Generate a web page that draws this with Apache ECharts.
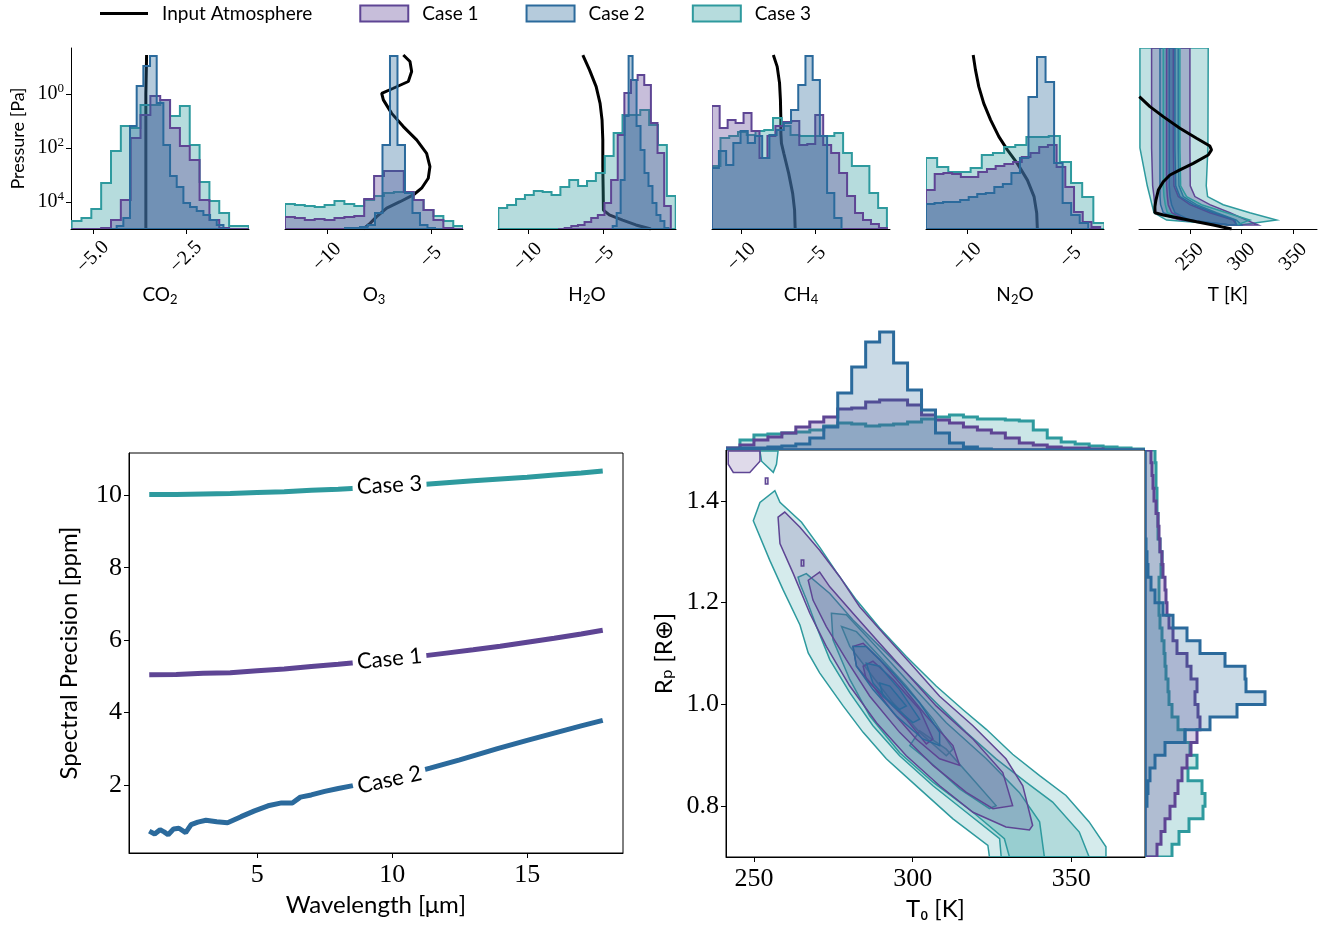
<!DOCTYPE html>
<html>
<head>
<meta charset="utf-8">
<script src="https://cdn.jsdelivr.net/npm/echarts@6/dist/echarts.min.js"></script>
<style>
html, body { margin: 0; padding: 0; background: #fff; }
#main { width: 1335px; height: 928px; }
</style>
</head>
<body>
<div id="main"></div>
<script>
// ---- abundance histograms (bin start, bin width) per case 1, 2, 3 ----
var co2Bins = [[-5.573, 0.2643], [-4.543, 0.1792], [-5.573, 0.2643]];
var co2Case1 = [0, 0, 0, 1, 9, 29, 91, 114, 133, 129, 101, 83, 69, 29, 9, 1, 0, 0];
var co2Case2 = [0, 3, 11, 103, 143, 163, 173, 126, 84, 53, 42, 26, 22, 18, 14, 9, 4, 0];
var co2Case3 = [8, 11, 20, 46, 78, 103, 101, 124, 124, 129, 113, 123, 84, 47, 28, 16, 3, 3];
var co2Profile = [[-3.56, -1.44], [-3.58, 0], [-3.58, 5]];

var o3Bins = [[-12.02, 0.476], [-9.135, 0.3606], [-12.02, 0.476]];
var o3Case1 = [12, 11, 9, 10, 9, 11, 12, 13, 30, 53, 58, 58, 37, 29, 19, 9, 1, 0];
var o3Case2 = [1, 1, 2, 4, 16, 84, 173, 84, 36, 16, 4, 1, 0];
var o3Case3 = [25, 24, 23, 22, 24, 28, 25, 23, 29, 33, 36, 37, 37, 29, 19, 13, 8, 3];
var o3Profile = [[-6.33, -1.44], [-6.01, -1.2], [-5.93, -0.83], [-6.09, -0.46], [-6.81, -0.21], [-7.37, -0.02],
  [-7.29, 0.22], [-6.89, 0.72], [-6.33, 1.21], [-5.69, 1.7], [-5.21, 2.2], [-5.05, 2.69], [-5.13, 3.12],
  [-5.45, 3.49], [-5.85, 3.74], [-6.49, 3.99], [-7.13, 4.23], [-7.61, 4.54], [-7.93, 4.79], [-8.25, 5.0]];

var h2oBins = [[-8.0, 0.4386], [-4.386, 0.263], [-11.95, 0.5866]];
var h2oCase1 = [0, 1, 3, 4, 7, 11, 14, 26, 49, 94, 136, 149, 154, 144, 106, 76, 23];
var h2oCase2 = [3, 16, 49, 113, 173, 149, 103, 79, 56, 43, 26, 14, 8, 1];
var h2oCase3 = [21, 24, 30, 34, 38, 37, 34, 42, 49, 43, 48, 56, 73, 96, 114, 114, 119, 104, 84, 33];
var h2oProfile = [[-6.36, -1.44], [-5.92, -0.89], [-5.48, -0.27], [-5.22, 0.35], [-5.09, 0.96], [-5.04, 1.7],
  [-5.04, 2.69], [-5.02, 3.43], [-5.0, 4.3], [-4.61, 4.48], [-3.73, 4.67], [-2.85, 4.85], [-1.86, 5.0]];

var ch4Bins = [[-12.02, 0.54], [-12.02, 0.489], [-12.02, 0.594]];
var ch4Case1 = [123, 101, 109, 106, 116, 98, 71, 93, 103, 107, 108, 84, 85, 114, 84, 76, 56, 33, 16, 9, 5, 1];
var ch4Case2 = [61, 78, 64, 86, 98, 86, 93, 71, 94, 99, 106, 119, 144, 173, 149, 93, 36, 11];
var ch4Case3 = [63, 91, 93, 97, 94, 98, 99, 111, 103, 94, 93, 93, 93, 93, 96, 76, 63, 63, 36, 21];
var ch4Profile = [[-7.84, -1.44], [-7.58, -1.01], [-7.42, -0.4], [-7.36, 0.22], [-7.33, 0.96], [-7.33, 1.46],
  [-7.29, 1.83], [-7.13, 2.2], [-6.8, 2.94], [-6.53, 3.68], [-6.4, 4.3], [-6.36, 5.0]];

var n2oBins = [[-12.0, 0.4207], [-12.0, 0.4126], [-12.0, 0.539]];
var n2oCase1 = [39, 55, 56, 55, 52, 52, 57, 60, 63, 65, 67, 72, 76, 82, 84, 62, 42, 17, 7, 2];
var n2oCase2 = [25, 26, 27, 27, 29, 32, 35, 36, 42, 45, 56, 71, 132, 172, 147, 66, 26, 14, 6];
var n2oCase3 = [71, 62, 57, 57, 61, 74, 76, 82, 84, 92, 92, 93, 67, 46, 32, 6];
var n2oProfile = [[-9.72, -1.44], [-9.61, -0.89], [-9.45, -0.27], [-9.21, 0.35], [-8.88, 0.96], [-8.48, 1.58],
  [-8.07, 2.07], [-7.59, 2.57], [-7.1, 3.19], [-6.78, 3.8], [-6.65, 4.42], [-6.62, 5.0]];

// ---- temperature profile: input and retrieved bands (log10 P levels) ----
var tProfile = [[201.0, 0.1], [211.3, 0.47], [224.2, 0.84], [240.3, 1.27], [256.4, 1.64], [269.3, 1.93],
  [270.9, 2.07], [267.7, 2.26], [253.2, 2.57], [240.3, 2.81], [230.7, 3.0], [224.2, 3.25], [219.4, 3.56],
  [217.1, 3.93], [216.1, 4.17], [216.1, 4.4], [224.2, 4.48], [240.3, 4.6], [256.4, 4.73], [272.6, 4.85], [290.3, 5.0]];
var tLevels = [-1.7, 2.0, 3.4, 3.8, 4.1, 4.4, 4.67, 4.85];
var tCase3OuterLo = [201.6, 201.6, 208.7, 211.3, 213.2, 215.2, 227.4, 288.7];
var tCase3OuterHi = [267.7, 267.4, 265.8, 267.1, 282.2, 308.0, 333.8, 298.4];
var tCase1OuterLo = [212.9, 212.9, 213.9, 215.2, 215.8, 217.1, 240.3, 288.7];
var tCase1OuterHi = [250.0, 250.0, 250.3, 254.8, 269.3, 288.7, 304.8, 316.1];
var tCase2OuterLo = [221.0, 221.0, 221.0, 221.0, 221.6, 224.2, 243.6, 288.7];
var tCase2OuterHi = [238.7, 238.7, 239.4, 243.6, 256.4, 275.8, 295.1, 300.0];
var tCase3InnerLo = [224.2, 224.2, 224.2, 224.9, 226.1, 228.1, 248.4, 288.7];
var tCase3InnerHi = [240.3, 240.3, 241.0, 246.8, 261.3, 285.5, 308.0, 295.1];
var tCase1InnerLo = [227.4, 227.4, 227.4, 228.1, 229.0, 232.3, 246.8, 288.7];
var tCase1InnerHi = [233.9, 233.9, 234.5, 238.7, 250.0, 269.3, 291.9, 295.1];
var tCase2InnerLo = [230.0, 230.0, 230.0, 230.7, 232.3, 235.5, 250.0, 288.7];
var tCase2InnerHi = [235.5, 235.5, 236.2, 240.3, 253.2, 272.6, 293.5, 295.1];

// ---- spectral precision vs wavelength ----
var wlCase1 = [1, 2, 3, 4, 5, 6, 7, 8, 9, 10, 11, 12, 13, 14, 15, 16, 17, 17.8];
var precCase1 = [5.04, 5.05, 5.08, 5.10, 5.15, 5.20, 5.27, 5.33, 5.40, 5.47, 5.55, 5.64, 5.73, 5.83, 5.94, 6.05, 6.17, 6.27];
var wlCase2 = [1.0, 1.2, 1.4, 1.55, 1.7, 1.9, 2.1, 2.35, 2.55, 2.8, 3.1, 3.5, 3.9, 4.4, 4.9, 5.4, 5.9, 6.3, 6.6,
  7.0, 7.5, 8.0, 8.5, 9.5, 10.5, 11.4, 12.5, 13.9, 15, 16, 17, 17.8];
var precCase2 = [0.72, 0.64, 0.76, 0.70, 0.62, 0.78, 0.80, 0.68, 0.90, 0.97, 1.02, 0.98, 0.95, 1.12, 1.28, 1.42,
  1.50, 1.50, 1.66, 1.72, 1.82, 1.90, 1.97, 2.10, 2.28, 2.46, 2.69, 3.00, 3.23, 3.43, 3.63, 3.78];
var wlCase3 = [1, 2, 3, 4, 5, 6, 7, 8, 9, 10, 11, 12, 13, 14, 15, 16, 17, 17.8];
var precCase3 = [10.02, 10.02, 10.04, 10.05, 10.08, 10.10, 10.14, 10.17, 10.21, 10.25, 10.29, 10.35, 10.40, 10.45, 10.50, 10.56, 10.62, 10.67];

// ---- T0 / Rp posterior: marginals and contour outlines ----
var t0Bins = [241.2, 4.4];
var t0Case1 = [2, 5, 10, 13, 17, 23, 28, 33, 41, 42, 48, 50, 50, 45, 35, 30, 27, 23, 20, 17, 12, 7, 5, 3, 2, 2, 1, 0, 0, 0];
var t0Case2 = [1, 2, 2, 3, 4, 6, 12, 23, 57, 83, 108, 118, 87, 60, 40, 17, 7, 3, 1, 0, 0, 0, 0, 0, 0, 0, 0, 0, 0, 0];
var t0Case3 = [2, 10, 15, 16, 17, 18, 20, 24, 27, 26, 24, 25, 26, 28, 31, 33, 35, 33, 31, 31, 30, 29, 20, 12, 8, 6, 4, 3, 2, 1];
var rpBins = [0.7, 0.025];
var rpCase1 = [12, 16, 20, 25, 30, 33, 37, 42, 46, 52, 55, 53, 50, 52, 46, 42, 32, 28, 24, 22, 21, 20, 18, 17, 15, 14, 13, 11, 9, 8, 7, 6];
var rpCase2 = [0, 0, 0, 0, 2, 3, 5, 10, 20, 40, 65, 92, 120, 101, 100, 80, 55, 42, 28, 18, 10, 6, 3, 2, 1, 0, 0, 0, 0, 0, 0, 0];
var rpCase3 = [27, 34, 44, 58, 60, 57, 43, 52, 45, 40, 33, 27, 24, 23, 21, 20, 19, 17, 15, 14, 14, 14, 16, 17, 15, 13, 13, 12, 12, 11, 11, 10];

var case3Contours = [
  [[256.6, 1.420], [258.2, 1.397], [265.0, 1.358], [270.7, 1.309], [276.0, 1.260], [282.3, 1.205], [289.6, 1.150], [298.0, 1.094],
   [307.4, 1.036], [315.8, 0.990], [323.2, 0.951], [331.5, 0.902], [340.0, 0.860], [348.3, 0.821], [355.6, 0.769], [360.9, 0.720],
   [360.9, 0.700], [324.2, 0.700], [323.7, 0.723], [312.7, 0.775], [302.2, 0.834], [291.7, 0.893], [284.4, 0.945], [278.1, 0.997],
   [270.7, 1.062], [267.1, 1.101], [264.5, 1.156], [259.2, 1.225], [255.0, 1.283], [249.8, 1.361], [251.9, 1.397]],
  [[263.9, 1.250], [266.5, 1.257], [273.9, 1.218], [281.2, 1.166], [289.6, 1.114], [298.0, 1.062], [307.4, 1.003], [316.9, 0.945],
   [326.3, 0.893], [335.7, 0.847], [344.1, 0.808], [352.5, 0.749], [355.6, 0.700], [327.9, 0.700], [327.4, 0.736], [316.9, 0.788],
   [306.4, 0.840], [295.9, 0.899], [287.5, 0.958], [280.2, 1.023], [273.9, 1.088], [269.7, 1.153], [266.6, 1.205], [264.5, 1.237]],
  [[274.4, 1.179], [279.1, 1.176], [286.5, 1.127], [298.0, 1.049], [310.6, 0.964], [323.2, 0.893], [333.6, 0.827], [340.0, 0.769],
   [341.5, 0.700], [330.5, 0.700], [328.9, 0.736], [319.0, 0.788], [306.4, 0.847], [295.9, 0.905], [286.5, 0.977], [280.2, 1.049], [274.9, 1.127]],
  [[277.6, 1.153], [282.3, 1.143], [289.6, 1.094], [298.0, 1.036], [306.4, 0.971], [312.7, 0.912], [310.6, 0.899], [302.2, 0.945],
   [293.8, 1.003], [286.5, 1.062], [280.2, 1.114]],
  [[299.1, 0.919], [302.2, 0.948], [310.6, 0.912], [319.0, 0.853], [326.3, 0.801], [324.2, 0.795], [314.8, 0.834], [304.3, 0.893]],
  [[251.9, 1.498], [257.6, 1.498], [257.1, 1.472], [256.1, 1.456], [252.4, 1.478]]
];
var case1Contours = [
  [[257.6, 1.368], [259.7, 1.378], [264.5, 1.348], [270.7, 1.303], [277.0, 1.251], [283.3, 1.192], [291.7, 1.133], [300.1, 1.075],
   [308.5, 1.016], [319.0, 0.958], [329.4, 0.893], [334.7, 0.840], [337.8, 0.762], [336.8, 0.753], [329.4, 0.759], [319.0, 0.788],
   [308.5, 0.840], [298.0, 0.899], [288.6, 0.964], [280.2, 1.036], [272.8, 1.114], [267.6, 1.179], [262.4, 1.257], [258.2, 1.316]],
  [[267.1, 1.244], [270.7, 1.260], [273.9, 1.231], [281.2, 1.179], [289.6, 1.120], [298.0, 1.062], [307.4, 0.997], [319.0, 0.932],
   [328.4, 0.866], [331.5, 0.801], [325.3, 0.795], [316.9, 0.827], [306.4, 0.880], [295.9, 0.945], [286.5, 1.016], [279.1, 1.088],
   [272.8, 1.153], [268.6, 1.205]],
  [[281.2, 1.114], [284.4, 1.120], [289.6, 1.088], [295.9, 1.042], [304.3, 0.977], [312.7, 0.919], [314.8, 0.880], [308.5, 0.893],
   [301.1, 0.932], [293.8, 0.984], [287.5, 1.036], [282.3, 1.075]],
  [[284.4, 1.075], [287.5, 1.085], [293.8, 1.049], [302.2, 0.990], [306.4, 0.932], [304.3, 0.922], [298.0, 0.971], [290.7, 1.016], [285.4, 1.049]],
  [[241.9, 1.498], [251.9, 1.498], [251.9, 1.478], [248.7, 1.456], [243.5, 1.456], [241.9, 1.472]],
  [[253.6, 1.445], [254.4, 1.445], [254.4, 1.433], [253.6, 1.433]],
  [[264.9, 1.284], [265.7, 1.284], [265.7, 1.272], [264.9, 1.272]]
];
var case2Contours = [
  [[281.2, 1.114], [285.4, 1.114], [293.8, 1.062], [302.2, 1.003], [308.5, 0.945], [308.5, 0.919], [303.2, 0.932], [294.9, 0.977],
   [287.5, 1.029], [282.3, 1.075]],
  [[285.4, 1.081], [289.6, 1.075], [295.9, 1.029], [302.2, 0.971], [300.1, 0.964], [293.8, 0.997], [287.5, 1.042]],
  [[289.6, 1.042], [292.8, 1.036], [298.0, 0.997], [295.9, 0.990], [290.7, 1.016]]
];

// ---- style ----
var SANS = 'Lato, "DejaVu Sans", sans-serif';
var SERIF = '"Liberation Serif", "DejaVu Serif", serif';
var caseColor = ['#5e4594', '#2b6a9c', '#2e9a9e'];
var caseRGB = ['94,69,148', '43,106,156', '46,154,158'];
function fillOf(i, a) { return 'rgba(' + caseRGB[i] + ',' + a + ')'; }
function fmtNum(v, d) { return (v < 0 ? '\u2212' : '') + Math.abs(v).toFixed(d); }

// build outline of a step histogram from bin start / width / counts
function stepPoly(start, step, counts, horizontal) {
  var pts = [[start, 0]];
  counts.forEach(function (c, i) {
    pts.push([start + i * step, c], [start + (i + 1) * step, c]);
  });
  pts.push([start + counts.length * step, 0]);
  if (horizontal) return pts.map(function (p) { return [p[1], p[0]]; });
  return pts;
}
function bandPoly(levels, lo, hi) {
  var pts = levels.map(function (l, i) { return [lo[i], l]; });
  for (var i = levels.length - 1; i >= 0; i--) pts.push([hi[i], levels[i]]);
  return pts;
}
function polySeries(name, polys, stroke, fill, lw, xi, yi, z) {
  return {
    type: 'custom', name: name, xAxisIndex: xi, yAxisIndex: yi, z: z, clip: true, silent: true,
    data: polys.map(function (p) { return [p[0][0], p[0][1]]; }),
    encode: { x: 0, y: 1 },
    renderItem: function (params, api) {
      var pts = polys[params.dataIndex].map(function (p) { return api.coord(p); });
      return { type: 'polygon', shape: { points: pts }, style: { fill: fill, stroke: stroke, lineWidth: lw } };
    }
  };
}

// subscript digits in axis names via rich text
var subRich = {
  n: { fontFamily: SANS, fontSize: 19, color: '#000', padding: [0, 0, 5, 0] },
  s: { fontFamily: SANS, fontSize: 13, color: '#000', padding: [5, 0, 0, 0] }
};
var gasNames = ['{n|CO}{s|2}', '{n|O}{s|3}', '{n|H}{s|2}{n|O}', '{n|CH}{s|4}', '{n|N}{s|2}{n|O}'];
var gasRange = [[-5.59, -0.81], [-12.02, -3.46], [-11.97, -0.2], [-12.0, 0.07], [-12.0, -3.4]];
var gasTicks = [[-5, -2.5], [-10, -5], [-10, -5], [-10, -5], [-10, -5]];
var gasDigits = [1, 0, 0, 0, 0];
var gasLeft = [71, 285, 498, 712, 926];
var gasHists = [
  [co2Bins, co2Case1, co2Case2, co2Case3],
  [o3Bins, o3Case1, o3Case2, o3Case3],
  [h2oBins, h2oCase1, h2oCase2, h2oCase3],
  [ch4Bins, ch4Case1, ch4Case2, ch4Case3],
  [n2oBins, n2oCase1, n2oCase2, n2oCase3]
];
var gasProfiles = [co2Profile, o3Profile, h2oProfile, ch4Profile, n2oProfile];

var blackLine = { color: '#000', width: 1 };
function bottomX(gi, min, max, ticks, digits, name, fs, nameGap, rot) {
  return {
    type: 'value', gridIndex: gi, min: min, max: max, name: name, nameLocation: 'middle', nameGap: nameGap,
    nameTextStyle: { fontFamily: SANS, fontSize: fs.name, color: '#000', rich: subRich },
    axisLine: { show: true, onZero: false, lineStyle: blackLine },
    axisTick: { show: true, customValues: ticks, length: 5, lineStyle: blackLine },
    axisLabel: rot ? {
      customValues: ticks, rotate: 45, align: 'center', verticalAlign: 'middle', margin: 28,
      fontFamily: SERIF, fontSize: fs.tick, color: '#000', formatter: function (v) { return fmtNum(v, digits); }
    } : {
      customValues: ticks, margin: 9, fontFamily: SERIF, fontSize: fs.tick, color: '#000',
      formatter: function (v) { return fmtNum(v, digits); }
    },
    splitLine: { show: false }
  };
}
function hiddenAxis(gi, min, max, inverse) {
  return { type: 'value', gridIndex: gi, min: min, max: max, inverse: !!inverse, show: false, splitLine: { show: false } };
}

var grids = [], xAxes = [], yAxes = [], series = [];
var topFs = { tick: 20, name: 19 };

gasNames.forEach(function (nm, g) {
  grids.push({ left: gasLeft[g], top: 48, width: 178, height: 181 });
  xAxes.push(bottomX(g, gasRange[g][0], gasRange[g][1], gasTicks[g], gasDigits[g], nm, topFs, 56, true));
  if (g === 0) {
    yAxes.push({
      type: 'value', gridIndex: 0, inverse: true, min: -1.7, max: 5, position: 'left',
      name: 'Pressure [Pa]', nameLocation: 'middle', nameGap: 44,
      nameTextStyle: { fontFamily: SANS, fontSize: 18, color: '#000' },
      axisLine: { show: true, onZero: false, lineStyle: blackLine },
      axisTick: { show: true, customValues: [0, 2, 4], length: 5, lineStyle: blackLine },
      axisLabel: {
        customValues: [0, 2, 4], margin: 7,
        formatter: function (v) { return '{b|10}{s|' + v + '}'; },
        rich: {
          b: { fontFamily: SERIF, fontSize: 20, color: '#000' },
          s: { fontFamily: SERIF, fontSize: 13, color: '#000', padding: [0, 0, 10, 0] }
        }
      },
      splitLine: { show: false }
    });
  } else {
    yAxes.push(hiddenAxis(g, -1.7, 5, true));
  }
  yAxes.push(hiddenAxis(g, 0, 181));

  series.push({
    type: 'line', name: 'Input Atmosphere', xAxisIndex: g, yAxisIndex: 2 * g, data: gasProfiles[g],
    symbol: 'none', showSymbol: false, lineStyle: { color: '#000', width: 3 }, itemStyle: { color: '#000' },
    z: 1, silent: true, clip: true
  });
  var h = gasHists[g];
  [2, 0, 1].forEach(function (c) {
    var poly = stepPoly(h[0][c][0], h[0][c][1], h[c + 1], false);
    series.push(polySeries('Case ' + (c + 1), [poly], caseColor[c], fillOf(c, 0.35), 2, g, 2 * g + 1, 2));
  });
});

// temperature panel
grids.push({ left: 1139, top: 48, width: 178, height: 181 });
xAxes.push(bottomX(5, 200.7, 373, [250, 300, 350], 0, 'T [K]', topFs, 56, true));
yAxes.push(hiddenAxis(5, -1.7, 5, true));
var tBands = [
  [2, tCase3OuterLo, tCase3OuterHi], [0, tCase1OuterLo, tCase1OuterHi], [1, tCase2OuterLo, tCase2OuterHi],
  [2, tCase3InnerLo, tCase3InnerHi], [0, tCase1InnerLo, tCase1InnerHi], [1, tCase2InnerLo, tCase2InnerHi]
];
tBands.forEach(function (b) {
  series.push(polySeries('Case ' + (b[0] + 1), [bandPoly(tLevels, b[1], b[2])], caseColor[b[0]], fillOf(b[0], 0.3), 1.5, 5, 10, 2));
});
series.push({
  type: 'line', name: 'Input Atmosphere', xAxisIndex: 5, yAxisIndex: 10, data: tProfile,
  symbol: 'none', lineStyle: { color: '#000', width: 3 }, z: 4, silent: true, clip: true
});

// spectral precision panel
var botFs = { tick: 26, name: 24 };
grids.push({ left: 129, top: 453, width: 494, height: 400, show: true, borderColor: '#000', borderWidth: 1, backgroundColor: 'transparent' });
xAxes.push(bottomX(6, 0.25, 18.55, [5, 10, 15], 0, 'Wavelength [\u03bcm]', botFs, 40, false));
yAxes.push({
  type: 'value', gridIndex: 6, min: 0.116, max: 11.17, name: 'Spectral Precision [ppm]', nameLocation: 'middle', nameGap: 48,
  nameTextStyle: { fontFamily: SANS, fontSize: 24, color: '#000' },
  axisLine: { show: true, onZero: false, lineStyle: blackLine },
  axisTick: { show: true, customValues: [2, 4, 6, 8, 10], length: 5, lineStyle: blackLine },
  axisLabel: { customValues: [2, 4, 6, 8, 10], margin: 7, fontFamily: SERIF, fontSize: 26, color: '#000' },
  splitLine: { show: false }
});
var precWl = [wlCase1, wlCase2, wlCase3];
var precVal = [precCase1, precCase2, precCase3];
var precLabelAt = [[9.9, 5.48], [9.9, 2.14], [9.9, 10.28]];
var precLabelRot = [5.5, 12.5, 3];
[0, 1, 2].forEach(function (c) {
  series.push({
    type: 'line', name: 'precision ' + (c + 1), xAxisIndex: 6, yAxisIndex: 11,
    data: precWl[c].map(function (w, i) { return [w, precVal[c][i]]; }),
    symbol: 'none', lineStyle: { color: caseColor[c], width: 5 }, z: 2, silent: true,
    markPoint: {
      silent: true, symbol: 'rect', symbolSize: [74, 26], symbolRotate: precLabelRot[c],
      itemStyle: { color: '#fff' },
      label: { show: true, position: 'inside', formatter: 'Case ' + (c + 1), rotate: precLabelRot[c],
        color: '#000', fontFamily: SANS, fontSize: 22 },
      data: [{ coord: precLabelAt[c] }]
    }
  });
});

// corner plot: main panel
grids.push({ left: 726, top: 450, width: 419, height: 407, show: true, borderColor: '#000', borderWidth: 1, backgroundColor: 'transparent' });
xAxes.push(bottomX(7, 241.2, 373.2, [250, 300, 350], 0, 'T\u2080 [K]', botFs, 40, false));
yAxes.push({
  type: 'value', gridIndex: 7, min: 0.7, max: 1.5, name: 'R\u209a [R\u2295]', nameLocation: 'middle', nameGap: 50,
  nameTextStyle: { fontFamily: SANS, fontSize: 24, color: '#000' },
  axisLine: { show: true, onZero: false, lineStyle: blackLine },
  axisTick: { show: true, customValues: [0.8, 1.0, 1.2, 1.4], length: 5, lineStyle: blackLine },
  axisLabel: { customValues: [0.8, 1.0, 1.2, 1.4], margin: 7, fontFamily: SERIF, fontSize: 26, color: '#000',
    formatter: function (v) { return v.toFixed(1); } },
  splitLine: { show: false }
});
// top marginal
grids.push({ left: 726, top: 330, width: 419, height: 120 });
xAxes.push(hiddenAxis(8, 241.2, 373.2));
yAxes.push(hiddenAxis(8, 0, 120));
// right marginal
grids.push({ left: 1145, top: 450, width: 123, height: 407 });
xAxes.push(hiddenAxis(9, 0, 123));
yAxes.push(hiddenAxis(9, 0.7, 1.5));

series.push(polySeries('Case 3', case3Contours, caseColor[2], fillOf(2, 0.2), 1.5, 7, 12, 2));
series.push(polySeries('Case 1', case1Contours, caseColor[0], fillOf(0, 0.2), 1.5, 7, 12, 3));
series.push(polySeries('Case 2', case2Contours, caseColor[1], fillOf(1, 0.2), 1.5, 7, 12, 4));

var t0Counts = [t0Case1, t0Case2, t0Case3];
var rpCounts = [rpCase1, rpCase2, rpCase3];
[2, 0, 1].forEach(function (c) {
  series.push(polySeries('Case ' + (c + 1), [stepPoly(t0Bins[0], t0Bins[1], t0Counts[c], false)], caseColor[c], fillOf(c, 0.25), 3, 8, 13, 2));
  series.push(polySeries('Case ' + (c + 1), [stepPoly(rpBins[0], rpBins[1], rpCounts[c], true)], caseColor[c], fillOf(c, 0.25), 3, 9, 14, 2));
});

// legend: a thin black bar for the input profile, outlined patches for the cases
var legendData = [{
  name: 'Input Atmosphere', icon: 'path://M0,0 L48,0 L48,3 L0,3 Z',
  itemStyle: { color: '#000', borderWidth: 0 }
}];
[0, 1, 2].forEach(function (c) {
  legendData.push({ name: 'Case ' + (c + 1), icon: 'rect',
    itemStyle: { color: fillOf(c, 0.35), borderColor: caseColor[c], borderWidth: 2 } });
});

var chart = echarts.init(document.getElementById('main'), null, { renderer: 'canvas' });
chart.setOption({
  animation: false,
  backgroundColor: '#fff',
  legend: {
    left: 95, top: -1, itemWidth: 48, itemHeight: 16, itemGap: 47, selectedMode: false, symbolKeepAspect: true,
    textStyle: { fontFamily: SANS, fontSize: 19, color: '#000', padding: [0, 0, 0, 9] },
    data: legendData
  },
  grid: grids,
  xAxis: xAxes,
  yAxis: yAxes,
  series: series
});
window.onresize = function () { chart.resize(); };
</script>
</body>
</html>
